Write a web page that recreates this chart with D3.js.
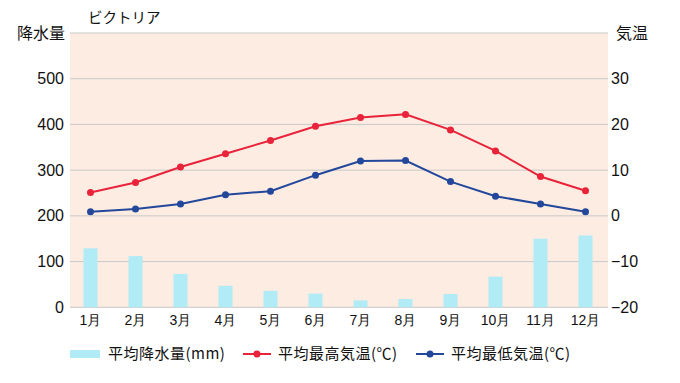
<!DOCTYPE html>
<html><head><meta charset="utf-8">
<script src="https://cdn.jsdelivr.net/npm/d3@7"></script>
<style>body{margin:0;background:#fff}svg{display:block;font-family:"Noto Sans CJK JP","Noto Sans",sans-serif}</style>
</head><body><svg id="c" width="680" height="383"></svg>
<script>
const months = ["1月","2月","3月","4月","5月","6月","7月","8月","9月","10月","11月","12月"];
const precip = [129,112,73,47,36,30,15,18,29,67,150,157];
const tempHigh = [5.1,7.3,10.7,13.6,16.5,19.6,21.5,22.2,18.8,14.2,8.6,5.5];
const tempLow = [0.9,1.5,2.6,4.6,5.4,8.9,12.0,12.1,7.5,4.3,2.6,0.9];
const precipTicks = [0,100,200,300,400,500];
const tempTicks = [-20,-10,0,10,20,30];
const title = "ビクトリア";
const legendLabels = ["平均降水量(mm)","平均最高気温(℃)","平均最低気温(℃)"];

const svg = d3.select("#c");
const L = 70, R = 608, T = 33, B = 307.3;
const x = d3.scaleBand().domain(months).range([68, 608]);
const yP = d3.scaleLinear().domain([0, 600]).range([B, T]);
const yT = d3.scaleLinear().domain([-20, 40]).range([B, T]);
const cRed = "#e8233a", cBlue = "#22479b", cBar = "#b0ebf6";

svg.append("rect").attr("x", L).attr("y", T).attr("width", R - L).attr("height", B - T).attr("fill", "#fdece2");
svg.append("g").selectAll("line").data(precipTicks.concat([600])).join("line")
  .attr("x1", L).attr("x2", R).attr("y1", d => yP(d)).attr("y2", d => yP(d))
  .attr("stroke", "#c9c9c9").attr("stroke-width", 1);

svg.append("g").selectAll("rect").data(precip).join("rect")
  .attr("x", (d, i) => x(months[i]) + x.bandwidth() / 2 - 7)
  .attr("width", 14)
  .attr("y", d => yP(d)).attr("height", d => yP(0) - yP(d))
  .attr("fill", cBar);

function series(data, color) {
  const line = d3.line().x((d, i) => x(months[i]) + x.bandwidth() / 2).y(d => yT(d));
  svg.append("path").datum(data).attr("d", line).attr("fill", "none").attr("stroke", color).attr("stroke-width", 2);
  svg.append("g").selectAll("circle").data(data).join("circle")
    .attr("cx", (d, i) => x(months[i]) + x.bandwidth() / 2).attr("cy", d => yT(d)).attr("r", 3.5).attr("fill", color);
}
series(tempHigh, cRed);
series(tempLow, cBlue);

const axL = d3.axisLeft(yP).tickValues(precipTicks).tickSize(0).tickPadding(6);
const gL = svg.append("g").attr("transform", `translate(${L},0)`).call(axL);
const axR = d3.axisRight(yT).tickValues(tempTicks).tickSize(0).tickPadding(3);
const gR = svg.append("g").attr("transform", `translate(${R},0)`).call(axR);
const axB = d3.axisBottom(x).tickSize(0).tickPadding(8);
const gB = svg.append("g").attr("transform", `translate(0,${B})`).call(axB);
[gL, gR].forEach(g => { g.select(".domain").remove(); g.selectAll("text").attr("font-size", 16).attr("fill", "#111").attr("font-family", "inherit"); });
gB.select(".domain").remove();
gB.selectAll("text").attr("font-size", 14).attr("fill", "#111").attr("font-family", "inherit");

svg.append("text").attr("x", 88).attr("y", 23).attr("font-size", 14.5).attr("fill", "#111").text(title);
svg.append("text").attr("x", 65).attr("y", 39).attr("text-anchor", "end").attr("font-size", 16).attr("fill", "#111").text("降水量");
svg.append("text").attr("x", 616).attr("y", 39).attr("font-size", 16).attr("fill", "#111").text("気温");

const lg = svg.append("g");
const ly = 354;
lg.append("rect").attr("x", 70).attr("y", ly - 4).attr("width", 30).attr("height", 8).attr("fill", cBar);
lg.append("text").attr("x", 108).attr("y", ly + 5).attr("font-size", 15).attr("letter-spacing", 0.5).attr("fill", "#111").text(legendLabels[0]);
[[243, 278, cRed, legendLabels[1]], [416, 451, cBlue, legendLabels[2]]].forEach(([x0, tx, c, t]) => {
  lg.append("line").attr("x1", x0).attr("x2", x0 + 28).attr("y1", ly).attr("y2", ly).attr("stroke", c).attr("stroke-width", 2);
  lg.append("circle").attr("cx", x0 + 14).attr("cy", ly).attr("r", 3.5).attr("fill", c);
  lg.append("text").attr("x", tx).attr("y", ly + 5).attr("font-size", 15).attr("letter-spacing", 0.5).attr("fill", "#111").text(t);
});
</script></body></html>
